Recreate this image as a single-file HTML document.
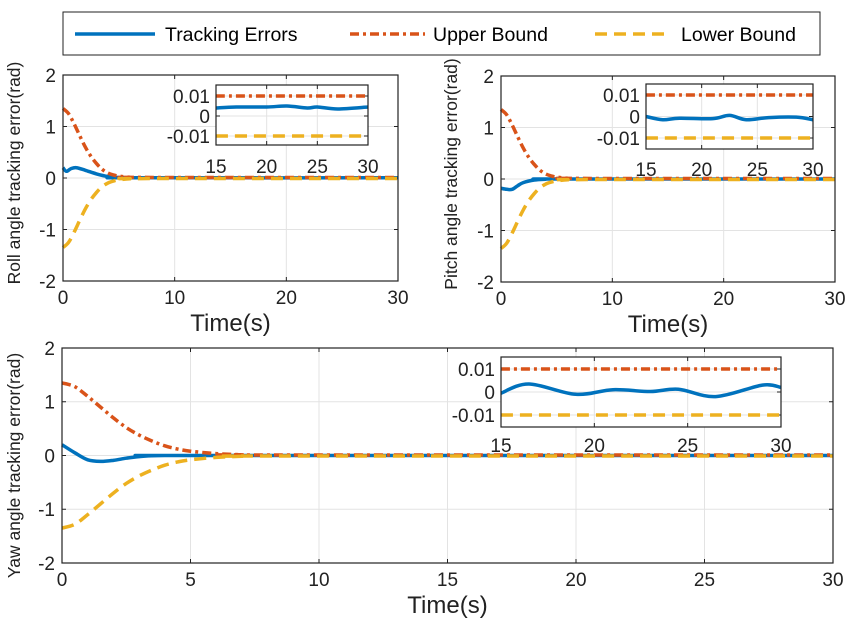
<!DOCTYPE html>
<html><head><meta charset="utf-8"><style>
body{margin:0;background:#fff;}
svg{display:block;font-family:"Liberation Sans",sans-serif;}
</style></head><body>
<svg id="s" width="857" height="631" viewBox="0 0 857 631" xmlns="http://www.w3.org/2000/svg">
<g>
<rect x="63" y="12" width="757" height="43" fill="#fff" stroke="#222" stroke-width="1"/>
<line x1="75" y1="34" x2="155" y2="34" stroke="#0072BD" stroke-width="3.5"/>
<text x="165" y="41" font-size="19.5">Tracking Errors</text>
<line x1="350" y1="34" x2="425" y2="34" stroke="#D95319" stroke-width="3.5" stroke-dasharray="9,4,3,4"/>
<text x="433" y="41" font-size="19.5">Upper Bound</text>
<line x1="595" y1="34" x2="670" y2="34" stroke="#EDB120" stroke-width="3.5" stroke-dasharray="12,7"/>
<text x="681" y="41" font-size="19.5">Lower Bound</text>
</g>
</svg>
<script>
const tUp=[0,0.5,1,1.5,2,2.5,3,3.5,4,4.5,5,6,7,30];
const upA=[1.35,1.25,1.05,0.82,0.6,0.42,0.28,0.17,0.1,0.06,0.035,0.015,0.011,0.01];
const tUp3=[0,0.5,1,1.5,2,2.5,3,3.5,4,4.5,5,6,7,8,30];
const up3=[1.35,1.28,1.1,0.9,0.7,0.52,0.38,0.27,0.18,0.12,0.08,0.035,0.015,0.01,0.01];
const tRoll=[0,0.3,0.7,1.2,2,3,4,5,6,30];
const roll=[0.2,0.13,0.18,0.2,0.15,0.08,0.03,0.01,0.004,0.004];
const tPitch=[0,0.5,1,1.5,2,3,4,5,30];
const pitch=[-0.18,-0.2,-0.2,-0.13,-0.07,-0.02,-0.005,0,0];
const tYaw=[0,0.5,1,1.5,2,2.5,3,3.5,4,5,30];
const yaw=[0.2,0.05,-0.08,-0.11,-0.09,-0.05,-0.02,-0.005,0,0,0];
const tIR=[15,17,20,22,24,25,27,30];
const inRoll=[0.004,0.0045,0.0045,0.005,0.004,0.0045,0.0035,0.0045];
const tIP=[15,16.5,18,21,22.5,24,26,28.5,30];
const inPitch=[0,-0.0015,-0.0008,-0.001,0.0005,-0.0015,-0.0005,-0.0003,-0.0015];
const tIY=[15,16.5,19,21,23,24.5,26.5,29,30];
const inYaw=[-0.0005,0.0035,-0.001,0.001,0.0002,0.0012,-0.002,0.003,0.002];
const inBoundT=[15,30];
const inUp=[0.01,0.01];
const mainX12=[0,10,20,30];
const mainX3=[0,5,10,15,20,25,30];
const mainY=[-2,-1,0,1,2];
const inX=[15,20,25,30];
const inY=[-0.01,0,0.01];

const NS="http://www.w3.org/2000/svg";
const svg=document.getElementById('s');
function mk(tag,at,parent){const e=document.createElementNS(NS,tag);for(const k in at)e.setAttribute(k,at[k]);(parent||svg).appendChild(e);return e;}
function sc(d0,d1,r0,r1){return v=>r0+(v-d0)/(d1-d0)*(r1-r0);}
function path(xs,ys,X,Y){
  const p=xs.map((x,i)=>[X(x),Y(ys[i])]);
  let d="M"+p[0][0]+","+p[0][1];
  for(let i=0;i<p.length-1;i++){
    const p0=p[Math.max(0,i-1)],p1=p[i],p2=p[i+1],p3=p[Math.min(p.length-1,i+2)];
    const c1x=p1[0]+(p2[0]-p0[0])/6,c1y=p1[1]+(p2[1]-p0[1])/6;
    const c2x=p2[0]-(p3[0]-p1[0])/6,c2y=p2[1]-(p3[1]-p1[1])/6;
    d+=" C"+c1x+","+c1y+" "+c2x+","+c2y+" "+p2[0]+","+p2[1];
  }
  return d;
}
function axes(g,L,R,T,B,X,Y,xt,yt,fs,lab){
  mk('rect',{x:L,y:T,width:R-L,height:B-T,fill:'#fff'},g);
  xt.forEach(v=>mk('line',{x1:X(v),x2:X(v),y1:T,y2:B,stroke:'#e3e3e3','stroke-width':1},g));
  yt.forEach(v=>mk('line',{x1:L,x2:R,y1:Y(v),y2:Y(v),stroke:'#e3e3e3','stroke-width':1},g));
  xt.forEach(v=>{mk('line',{x1:X(v),x2:X(v),y1:B,y2:B-4,stroke:'#222'},g);mk('line',{x1:X(v),x2:X(v),y1:T,y2:T+4,stroke:'#222'},g);
    const t=mk('text',{x:X(v),y:lab.xy,'font-size':fs,'text-anchor':'middle',fill:'#222'},g);t.textContent=v;
    });
  yt.forEach(v=>{mk('line',{x1:L,x2:L+4,y1:Y(v),y2:Y(v),stroke:'#222'},g);mk('line',{x1:R,x2:R-4,y1:Y(v),y2:Y(v),stroke:'#222'},g);
    const t=mk('text',{x:L-lab.yo,y:Y(v)+fs*0.36,'font-size':fs,'text-anchor':'end',fill:'#222'},g);t.textContent=v;
    });
}
function series(g,xs,ys,X,Y,kind){
  const st={err:['#0072BD',null],up:['#D95319','9,4,3,4'],lo:['#EDB120','12,7']}[kind];
  const at={d:path(xs,ys,X,Y),fill:'none',stroke:st[0],'stroke-width':3.5};
  if(st[1])at['stroke-dasharray']=st[1];
  const e=mk('path',at,g);
  
  
}
function panel(name,L,R,T,B,xt,err,tErr,tU,U,ylab,inset){
  const g=mk('g',{});
  
  const X=sc(0,30,L,R),Y=sc(-2,2,B,T);
  axes(g,L,R,T,B,X,Y,xt,mainY,19,{xy:B+23,yo:7});
  series(g,tErr,err,X,Y,'err');
  series(g,tU,U,X,Y,'up');
  series(g,tU,U.map(v=>-v),X,Y,'lo');
  mk('rect',{x:L,y:T,width:R-L,height:B-T,fill:'none',stroke:'#222','stroke-width':1.2},g);
  const xl=mk('text',{x:(L+R)/2,y:B+50,'font-size':24,'text-anchor':'middle',fill:'#222'},g);xl.textContent='Time(s)';
  
  const yl=mk('text',{x:0,y:0,'font-size':17.5,'text-anchor':'middle',fill:'#222',transform:`translate(${ylab.x},${(T+B)/2+ylab.dy}) rotate(-90)`},g);yl.textContent=ylab.t;
  
  const ig=mk('g',{},g);
  
  const IX=sc(15,30,inset.L,inset.R),IY=sc(0,0.01,inset.y0,inset.y1);
  axes(ig,inset.L,inset.R,inset.T,inset.B,IX,IY,inX,inY,19,{xy:inset.lab,yo:6});
  series(ig,inset.t,inset.v,IX,IY,'err');
  series(ig,inBoundT,inUp,IX,IY,'up');
  series(ig,inBoundT,inUp.map(v=>-v),IX,IY,'lo');
  mk('rect',{x:inset.L,y:inset.T,width:inset.R-inset.L,height:inset.B-inset.T,fill:'none',stroke:'#222','stroke-width':1.2},ig);
}
panel('roll-panel',63,398,75,281,mainX12,roll,tRoll,tUp,upA,{x:20,dy:-5,t:'Roll angle tracking error(rad)'},
  {L:216,R:368,T:85,B:145,y0:116,y1:96,t:tIR,v:inRoll,lab:173});
panel('pitch-panel',501,835,76,282,mainX12,pitch,tPitch,tUp,upA,{x:457,dy:-5,t:'Pitch angle tracking error(rad)'},
  {L:646,R:813,T:84,B:149,y0:116.5,y1:95,t:tIP,v:inPitch,lab:176});
panel('yaw-panel',62,833,348,563,mainX3,yaw,tYaw,tUp3,up3,{x:20,dy:10,t:'Yaw angle tracking error(rad)'},
  {L:501,R:781,T:357,B:427,y0:392,y1:369,t:tIY,v:inYaw,lab:452});
</script>
</body></html>
